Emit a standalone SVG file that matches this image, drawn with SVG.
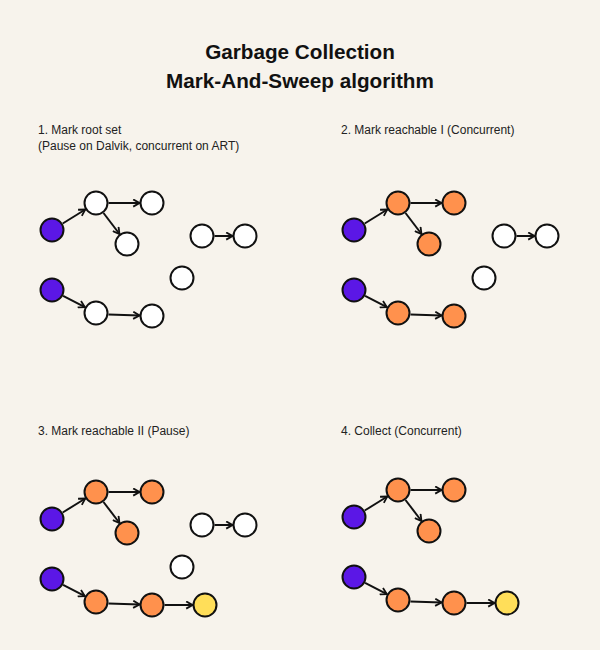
<svg xmlns="http://www.w3.org/2000/svg" width="600" height="650" viewBox="0 0 600 650">
<style>
.t{font-family:"Liberation Sans",Arial,sans-serif;font-weight:bold;font-size:20.7px;fill:#111;text-anchor:middle}
.l{font-family:"Liberation Sans",Arial,sans-serif;font-size:12px;fill:#222}
circle{stroke:#111;stroke-width:2}
.r{fill:#5B17E6}.w{fill:#fff}.o{fill:#FF914D}.y{fill:#FFDE59}
.c path{fill:none;stroke:#111;stroke-width:2;marker-end:url(#ah)}
</style>
<defs>
<marker id="ah" viewBox="0 0 10 10" markerUnits="userSpaceOnUse" markerWidth="9" markerHeight="9" refX="8.5" refY="5" orient="auto">
<path d="M1.5,1 L8.5,5 L1.5,9" fill="none" stroke="#111" stroke-width="2" stroke-linejoin="miter"/>
</marker>
</defs>
<rect width="600" height="650" fill="#F7F3EC"/>
<text class="t" x="300" y="59">Garbage Collection</text>
<text class="t" x="300" y="88">Mark-And-Sweep algorithm</text>
<text class="l" x="38" y="134">1. Mark root set</text>
<text class="l" x="38" y="150">(Pause on Dalvik, concurrent on ART)</text>
<text class="l" x="341" y="134">2. Mark reachable I (Concurrent)</text>
<text class="l" x="38" y="435">3. Mark reachable II (Pause)</text>
<text class="l" x="341" y="435">4. Collect (Concurrent)</text>

<g id="connectors" class="c">
<g id="conn1">
<path d="M62.7,223.5 L85.3,209.5"/><path d="M108.5,203 L139.5,203"/><path d="M103.5,213 L119.5,234"/><path d="M214.5,236 L232.5,236"/><path d="M63.1,295.8 L84.9,307.2"/><path d="M108.5,314.5 L139.5,315.5"/>
</g>
<g id="conn2" transform="translate(302,0)">
<path d="M62.7,223.5 L85.3,209.5"/><path d="M108.5,203 L139.5,203"/><path d="M103.5,213 L119.5,234"/><path d="M214.5,236 L232.5,236"/><path d="M63.1,295.8 L84.9,307.2"/><path d="M108.5,314.5 L139.5,315.5"/>
</g>
<g id="conn3" transform="translate(0,289)">
<path d="M62.7,223.5 L85.3,209.5"/><path d="M108.5,203 L139.5,203"/><path d="M103.5,213 L119.5,234"/><path d="M214.5,236 L232.5,236"/><path d="M63.1,295.8 L84.9,307.2"/><path d="M108.5,314.5 L139.5,315.5"/><path d="M164.5,316 L192.5,316"/>
</g>
<g id="conn4" transform="translate(302,287)">
<path d="M62.7,223.5 L85.3,209.5"/><path d="M108.5,203 L139.5,203"/><path d="M103.5,213 L119.5,234"/><path d="M63.1,295.8 L84.9,307.2"/><path d="M108.5,314.5 L139.5,315.5"/><path d="M164.5,316 L192.5,316"/>
</g>
</g>

<g id="panel1">
<g id="p1-root1"><circle class="r" cx="52" cy="230" r="11.5"/></g>
<g id="p1-b"><circle class="w" cx="96" cy="203" r="11.5"/></g>
<g id="p1-c"><circle class="w" cx="152" cy="203" r="11.5"/></g>
<g id="p1-d"><circle class="w" cx="127" cy="244" r="11.5"/></g>
<g id="p1-e"><circle class="w" cx="202" cy="236" r="11.5"/></g>
<g id="p1-f"><circle class="w" cx="245" cy="236" r="11.5"/></g>
<g id="p1-g"><circle class="w" cx="182" cy="278" r="11.5"/></g>
<g id="p1-root2"><circle class="r" cx="52" cy="290" r="11.5"/></g>
<g id="p1-i"><circle class="w" cx="96" cy="313" r="11.5"/></g>
<g id="p1-j"><circle class="w" cx="152" cy="316" r="11.5"/></g>
</g>

<g id="panel2" transform="translate(302,0)">
<g id="p2-root1"><circle class="r" cx="52" cy="230" r="11.5"/></g>
<g id="p2-b"><circle class="o" cx="96" cy="203" r="11.5"/></g>
<g id="p2-c"><circle class="o" cx="152" cy="203" r="11.5"/></g>
<g id="p2-d"><circle class="o" cx="127" cy="244" r="11.5"/></g>
<g id="p2-e"><circle class="w" cx="202" cy="236" r="11.5"/></g>
<g id="p2-f"><circle class="w" cx="245" cy="236" r="11.5"/></g>
<g id="p2-g"><circle class="w" cx="182" cy="278" r="11.5"/></g>
<g id="p2-root2"><circle class="r" cx="52" cy="290" r="11.5"/></g>
<g id="p2-i"><circle class="o" cx="96" cy="313" r="11.5"/></g>
<g id="p2-j"><circle class="o" cx="152" cy="316" r="11.5"/></g>
</g>

<g id="panel3" transform="translate(0,289)">
<g id="p3-root1"><circle class="r" cx="52" cy="230" r="11.5"/></g>
<g id="p3-b"><circle class="o" cx="96" cy="203" r="11.5"/></g>
<g id="p3-c"><circle class="o" cx="152" cy="203" r="11.5"/></g>
<g id="p3-d"><circle class="o" cx="127" cy="244" r="11.5"/></g>
<g id="p3-e"><circle class="w" cx="202" cy="236" r="11.5"/></g>
<g id="p3-f"><circle class="w" cx="245" cy="236" r="11.5"/></g>
<g id="p3-g"><circle class="w" cx="182" cy="278" r="11.5"/></g>
<g id="p3-root2"><circle class="r" cx="52" cy="290" r="11.5"/></g>
<g id="p3-i"><circle class="o" cx="96" cy="313" r="11.5"/></g>
<g id="p3-j"><circle class="o" cx="152" cy="316" r="11.5"/></g>
<g id="p3-k"><circle class="y" cx="205" cy="316" r="11.5"/></g>
</g>

<g id="panel4" transform="translate(302,287)">
<g id="p4-root1"><circle class="r" cx="52" cy="230" r="11.5"/></g>
<g id="p4-b"><circle class="o" cx="96" cy="203" r="11.5"/></g>
<g id="p4-c"><circle class="o" cx="152" cy="203" r="11.5"/></g>
<g id="p4-d"><circle class="o" cx="127" cy="244" r="11.5"/></g>
<g id="p4-root2"><circle class="r" cx="52" cy="290" r="11.5"/></g>
<g id="p4-i"><circle class="o" cx="96" cy="313" r="11.5"/></g>
<g id="p4-j"><circle class="o" cx="152" cy="316" r="11.5"/></g>
<g id="p4-k"><circle class="y" cx="205" cy="316" r="11.5"/></g>
</g>
</svg>
